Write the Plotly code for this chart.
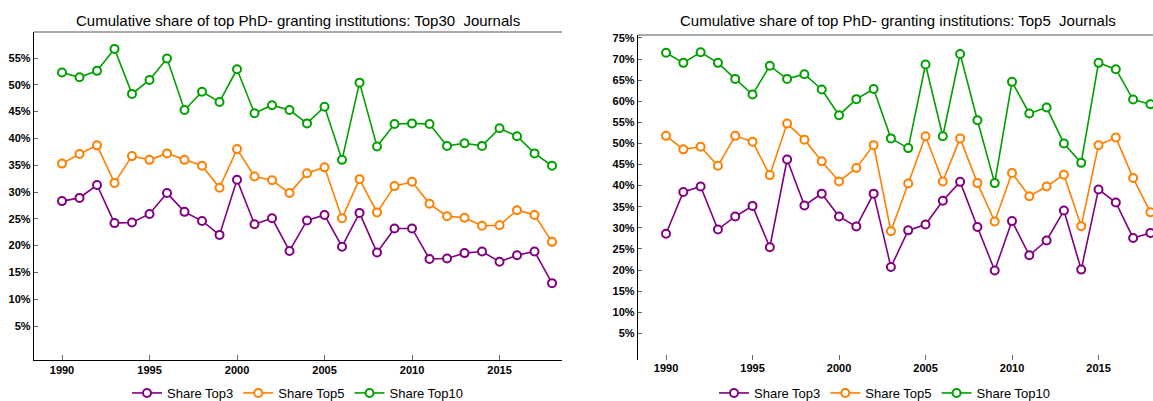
import plotly.graph_objects as go

years = list(range(1990, 2019))

# Top30 journals (percent)
top3_j30 = [28.3, 28.9, 31.3, 24.2, 24.3, 25.9, 29.8, 26.3, 24.6, 22.0, 32.3, 24.0, 25.1, 19.0, 24.7,
            25.7, 19.8, 26.1, 18.7, 23.2, 23.2, 17.5, 17.6, 18.6, 18.9, 17.0, 18.2, 18.9, 13.0]
top5_j30 = [35.3, 37.1, 38.7, 31.7, 36.7, 36.0, 37.2, 36.0, 34.9, 30.8, 38.0, 32.9, 32.2, 29.8, 33.5,
            34.6, 25.1, 32.4, 26.2, 31.1, 31.9, 27.8, 25.5, 25.2, 23.7, 23.8, 26.6, 25.7, 20.7]
top10_j30 = [52.3, 51.4, 52.6, 56.7, 48.3, 50.9, 54.9, 45.3, 48.7, 46.8, 52.9, 44.7, 46.2, 45.3, 42.8,
             45.9, 36.0, 50.4, 38.5, 42.7, 42.8, 42.7, 38.6, 39.1, 38.6, 41.9, 40.4, 37.2, 34.9]

# Top5 journals (percent)
top3_j5 = [28.6, 38.5, 39.8, 29.6, 32.7, 35.2, 25.4, 46.2, 35.3, 38.1, 32.7, 30.3, 38.1, 20.7, 29.4,
           30.8, 36.4, 40.9, 30.2, 19.9, 31.6, 23.5, 27.0, 34.1, 20.1, 39.1, 36.0, 27.6, 28.8]
top5_j5 = [51.8, 48.6, 49.2, 44.7, 51.8, 50.4, 42.5, 54.7, 50.9, 45.8, 41.0, 44.2, 49.6, 29.2, 40.5,
           51.7, 41.0, 51.2, 40.6, 31.5, 43.0, 37.5, 39.8, 42.6, 30.4, 49.6, 51.4, 41.8, 33.7]
top10_j5 = [71.5, 69.1, 71.6, 69.1, 65.3, 61.6, 68.4, 65.3, 66.4, 62.8, 56.7, 60.5, 62.9, 51.2, 48.9,
            68.7, 51.7, 71.2, 55.5, 40.6, 64.6, 57.1, 58.5, 50.0, 45.4, 69.1, 67.6, 60.4, 59.3]

series_names = ["Share Top3", "Share Top5", "Share Top10"]
colors = ["#800080", "#FF7F00", "#00A000"]

titles = ["Cumulative share of top PhD- granting institutions: Top30  Journals",
          "Cumulative share of top PhD- granting institutions: Top5  Journals"]
xticks = [1990, 1995, 2000, 2005, 2010, 2015]
yticks_left = [5, 10, 15, 20, 25, 30, 35, 40, 45, 50, 55]
yticks_right = [5, 10, 15, 20, 25, 30, 35, 40, 45, 50, 55, 60, 65, 70, 75]
ytext_left = [f"{v}%" for v in yticks_left]
ytext_right = [f"{v}%" for v in yticks_right]

W, H = 1153, 401
fig = go.Figure()

def add_series(vals, name, color, xa, ya, legend):
    fig.add_trace(go.Scatter(
        x=years, y=vals, name=name, mode="lines+markers",
        xaxis=xa, yaxis=ya, legend=legend,
        line=dict(color=color, width=1.6),
        marker=dict(symbol="circle", size=8, color="white",
                    line=dict(color=color, width=2)),
        cliponaxis=False,
    ))

for vals, n, c in zip([top3_j30, top5_j30, top10_j30], series_names, colors):
    add_series(vals, n, c, "x", "y", "legend")
for vals, n, c in zip([top3_j5, top5_j5, top10_j5], series_names, colors):
    add_series(vals, n, c, "x2", "y2", "legend2")

tickfont = dict(family="Liberation Sans, Arial, sans-serif", size=11, color="black", weight="bold")

lx0, lx1 = 34 / W, 562 / W
rx0, rx1 = 638 / W, 1.0
by = (H - 360) / H
lty = (H - 32) / H
rty = (H - 35) / H

common_x = dict(tickvals=xticks, ticks="inside", ticklen=5, tickcolor="#666", tickwidth=1,
                showgrid=False, zeroline=False, tickfont=tickfont, automargin=False)
common_y = dict(ticks="inside", ticklen=4, tickcolor="#666", tickwidth=1,
                showgrid=False, zeroline=False, tickfont=tickfont, automargin=False,
                showline=True, linecolor="black", linewidth=1.3)

fig.update_layout(
    width=W, height=H,
    margin=dict(l=0, r=0, t=0, b=0, autoexpand=False),
    paper_bgcolor="white", plot_bgcolor="white",
    font=dict(family="Liberation Sans, Arial, sans-serif", color="black"),
    xaxis=dict(domain=[lx0, lx1], range=[1988.4, 2018.57], anchor="y",
               showline=True, linecolor="black", linewidth=1.3, **common_x),
    yaxis=dict(domain=[by, lty], range=[-1.34, 59.85], anchor="x",
               tickvals=yticks_left, ticktext=ytext_left, **common_y),
    xaxis2=dict(domain=[rx0, rx1], range=[1988.38, 2018.15], anchor="y2",
                showline=False, **common_x),
    yaxis2=dict(domain=[by, rty], range=[-1.32, 75.7], anchor="x2",
                tickvals=yticks_right, ticktext=ytext_right, **common_y),
    legend=dict(orientation="h", x=(lx0 + lx1) / 2, xanchor="center", y=0.02, yanchor="middle",
                font=dict(size=13, color="black"), itemwidth=30, bgcolor="rgba(0,0,0,0)"),
    legend2=dict(orientation="h", x=885 / W, xanchor="center", y=0.02, yanchor="middle",
                 font=dict(size=13, color="black"), itemwidth=30, bgcolor="rgba(0,0,0,0)"),
    shapes=[
        dict(type="line", xref="x domain", yref="y domain", x0=0, x1=1, y0=1, y1=1,
             line=dict(color="#555", width=1)),
        dict(type="line", xref="x2 domain", yref="y2 domain", x0=0, x1=1, y0=1, y1=1,
             line=dict(color="#555", width=1)),
    ],
    annotations=[
        dict(text=titles[0], x=(lx0 + lx1) / 2, y=(H - 21) / H, xref="paper", yref="paper",
             xanchor="center", yanchor="middle", showarrow=False,
             font=dict(size=15, color="black", family="Liberation Sans, Arial, sans-serif")),
        dict(text=titles[1], x=898 / W, y=(H - 21) / H, xref="paper", yref="paper",
             xanchor="center", yanchor="middle", showarrow=False,
             font=dict(size=15, color="black", family="Liberation Sans, Arial, sans-serif")),
    ],
)

fig.write_html("out.html", config={"displayModeBar": False},
               post_script="document.body.style.margin='0';document.body.style.overflow='hidden';")
